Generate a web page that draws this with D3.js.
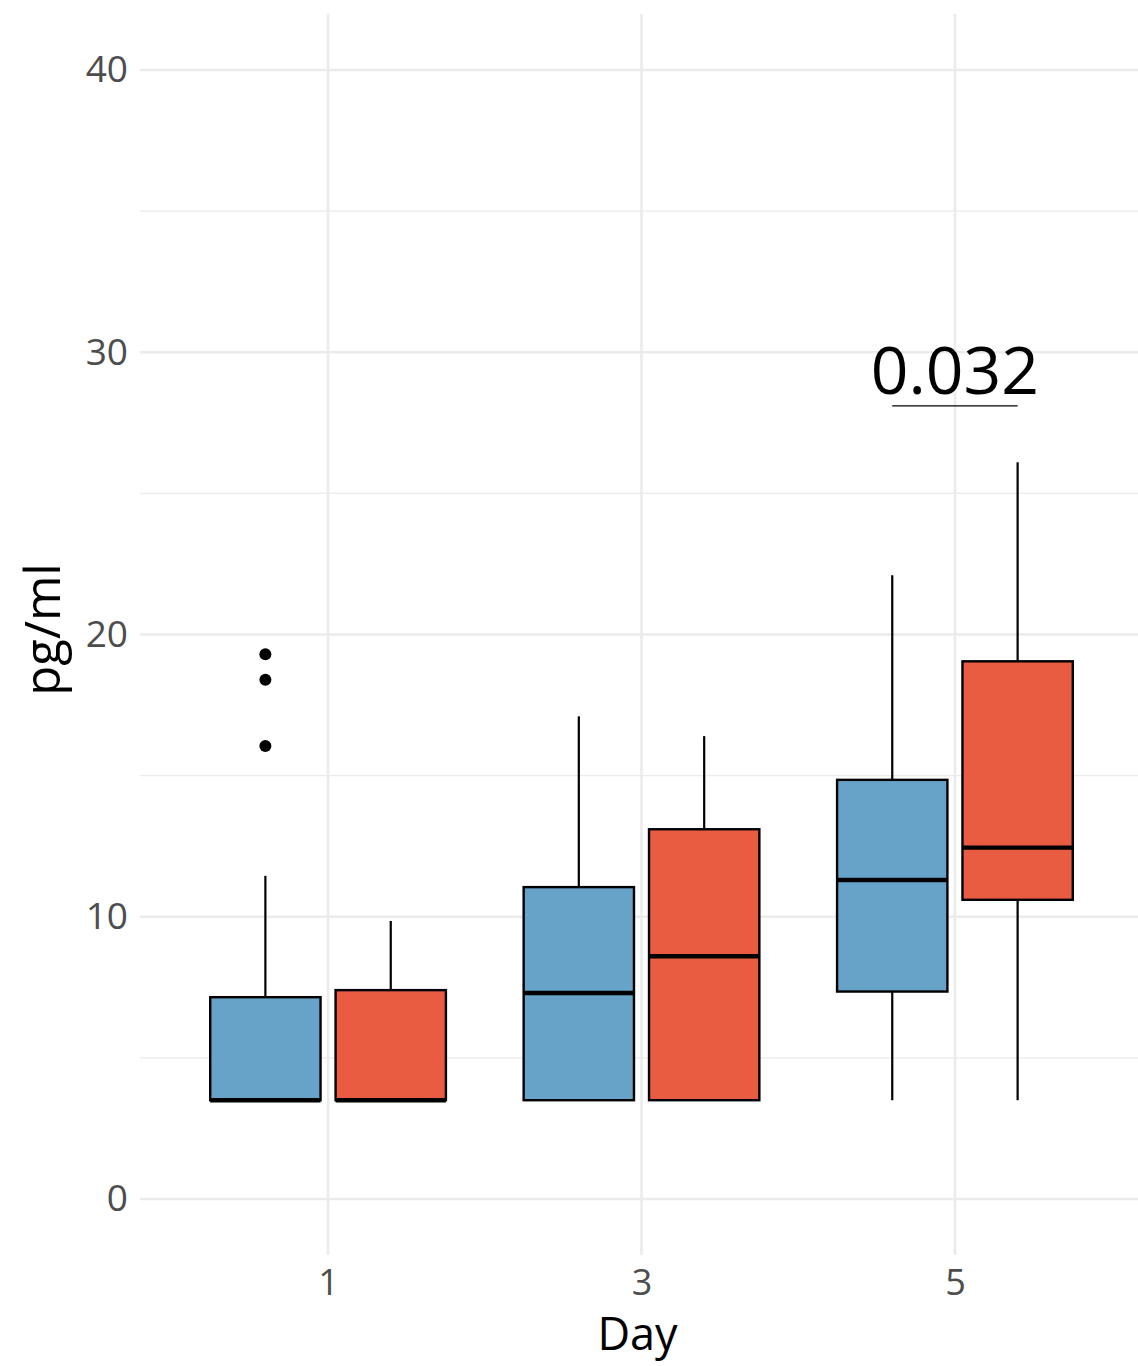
<!DOCTYPE html>
<html>
<head>
<meta charset="utf-8">
<script src="https://cdn.jsdelivr.net/npm/d3@7"></script>
<style>
  html, body { margin: 0; padding: 0; background: #fff; }
  text { font-family: "Open Sans", "Noto Sans", sans-serif; }
</style>
</head>
<body>
<div id="chart"></div>
<script>
// data
const days = ["1", "3", "5"];
const groups = ["A", "B"];
const groupColors = ["#67a3c8", "#e95c42"];
// [day, group, lowerWhisker, q1, median, q3, upperWhisker]
const boxStats = [
    ["1", "A", 3.5, 3.5, 3.5, 7.15, 11.45],
    ["1", "B", 3.5, 3.5, 3.5, 7.4, 9.85],
    ["3", "A", 3.5, 3.5, 7.3, 11.05, 17.1],
    ["3", "B", 3.5, 3.5, 8.6, 13.1, 16.4],
    ["5", "A", 3.5, 7.35, 11.3, 14.85, 22.1],
    ["5", "B", 3.5, 10.6, 12.45, 19.05, 26.1]
];
const outliers = [
    ["1", "A", 19.3],
    ["1", "A", 18.4],
    ["1", "A", 16.05]
];
const yTicks = [0, 10, 20, 30, 40];
const yMinor = [5, 15, 25, 35];
const pLabel = { day: "5", text: "0.032", y: 28.1 };

const width = 1138, height = 1366;
const panel = { left: 140, right: 1143, top: 14, bottom: 1255 };

const svg = d3.select("#chart").append("svg")
    .attr("width", width)
    .attr("height", height);

const x = d3.scalePoint()
    .domain(days)
    .range([panel.left, panel.right])
    .padding(0.6);

const y = d3.scaleLinear()
    .domain([0, 40])
    .range([1199, 70]);

const step = x.step();
const dodge = d3.scaleBand()
    .domain(groups)
    .range([-step * 0.4, step * 0.4])
    .paddingInner(0.12)
    .paddingOuter(0.06);
const color = d3.scaleOrdinal().domain(groups).range(groupColors);

// grid
const grid = svg.append("g");
grid.selectAll("line.minor")
    .data(yMinor)
    .join("line")
    .attr("x1", panel.left).attr("x2", width)
    .attr("y1", d => y(d)).attr("y2", d => y(d))
    .attr("stroke", "#ebebeb").attr("stroke-width", 1.3);
grid.selectAll("line.major")
    .data(yTicks)
    .join("line")
    .attr("x1", panel.left).attr("x2", width)
    .attr("y1", d => y(d)).attr("y2", d => y(d))
    .attr("stroke", "#ebebeb").attr("stroke-width", 2.6);
grid.selectAll("line.vx")
    .data(days)
    .join("line")
    .attr("x1", d => x(d)).attr("x2", d => x(d))
    .attr("y1", panel.top).attr("y2", panel.bottom)
    .attr("stroke", "#ebebeb").attr("stroke-width", 2.6);

// axes
const yAxis = svg.append("g")
    .attr("transform", `translate(${panel.left},0)`)
    .call(d3.axisLeft(y).tickValues(yTicks).tickSize(0).tickPadding(12));
yAxis.select(".domain").remove();
yAxis.selectAll("text")
    .attr("font-size", 37).attr("fill", "#4d4d4d")
    .style("font-family", '"Open Sans", "Noto Sans", sans-serif');

const xAxis = svg.append("g")
    .attr("transform", `translate(0,${panel.bottom})`)
    .call(d3.axisBottom(x).tickSize(0).tickPadding(14));
xAxis.select(".domain").remove();
xAxis.selectAll("text")
    .attr("font-size", 36).attr("fill", "#4d4d4d")
    .style("font-family", '"Open Sans", "Noto Sans", sans-serif');

svg.append("text")
    .attr("x", x("3") - 4).attr("y", 1350)
    .attr("text-anchor", "middle")
    .attr("font-size", 45).attr("fill", "#000")
    .text("Day");

svg.append("text")
    .attr("transform", `translate(60,${y(20) - 5}) rotate(-90)`)
    .attr("text-anchor", "middle")
    .attr("font-size", 49).attr("fill", "#000")
    .text("pg/ml");

// boxes
const bw = dodge.bandwidth();
const boxes = svg.append("g").selectAll("g")
    .data(boxStats)
    .join("g")
    .attr("transform", d => `translate(${x(d[0]) + dodge(d[1])},0)`);

boxes.append("line")
    .attr("x1", bw / 2).attr("x2", bw / 2)
    .attr("y1", d => y(d[6])).attr("y2", d => y(d[5]))
    .attr("stroke", "#000").attr("stroke-width", 2.2);
boxes.append("line")
    .attr("x1", bw / 2).attr("x2", bw / 2)
    .attr("y1", d => y(d[3])).attr("y2", d => y(d[2]))
    .attr("stroke", "#000").attr("stroke-width", 2.2);
boxes.append("rect")
    .attr("x", 0).attr("width", bw)
    .attr("y", d => y(d[5]))
    .attr("height", d => y(d[3]) - y(d[5]))
    .attr("fill", d => color(d[1]))
    .attr("stroke", "#000").attr("stroke-width", 2.4);
boxes.append("line")
    .attr("x1", 0).attr("x2", bw)
    .attr("y1", d => y(d[4])).attr("y2", d => y(d[4]))
    .attr("stroke", "#000").attr("stroke-width", 4.4);

svg.append("g").selectAll("circle")
    .data(outliers)
    .join("circle")
    .attr("cx", d => x(d[0]) + dodge(d[1]) + bw / 2)
    .attr("cy", d => y(d[2]))
    .attr("r", 6)
    .attr("fill", "#000");

// p-value annotation
const px1 = x(pLabel.day) + dodge("A") + bw / 2;
const px2 = x(pLabel.day) + dodge("B") + bw / 2;
svg.append("line")
    .attr("x1", px1).attr("x2", px2)
    .attr("y1", y(pLabel.y)).attr("y2", y(pLabel.y))
    .attr("stroke", "#000").attr("stroke-width", 1.4);
svg.append("text")
    .attr("x", (px1 + px2) / 2).attr("y", y(pLabel.y) - 12)
    .attr("text-anchor", "middle")
    .attr("font-size", 66).attr("fill", "#000")
    .text(pLabel.text);
</script>
</body>
</html>
